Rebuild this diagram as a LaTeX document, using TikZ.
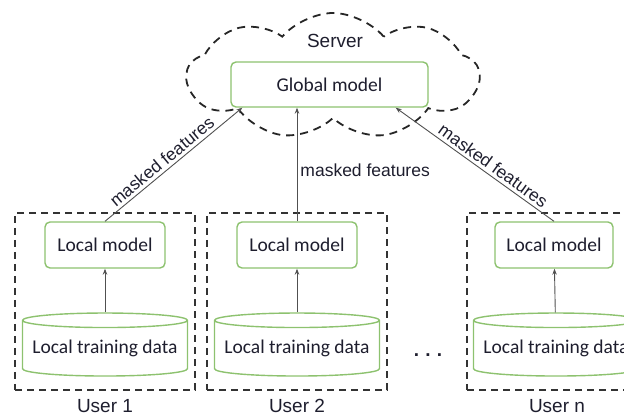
\documentclass[tikz,border=0pt]{standalone}
\usepackage{fontspec}
\setmainfont{Liberation Sans}
\newfontfamily\calibri{Carlito}
\usetikzlibrary{arrows.meta,positioning,shapes.geometric,shapes.symbols}
\definecolor{leaf}{HTML}{8DC26F}
\definecolor{ink}{HTML}{1E1E2E}
\definecolor{wire}{HTML}{505050}
\begin{document}
\begin{tikzpicture}[x=1pt,y=-1pt,>={Stealth[length=6pt,width=4.5pt]},
every node/.style={text=ink,align=center},
model/.style={draw=leaf,line width=1.4pt,rounded corners=5pt,fill=white,font=\calibri\fontsize{19.5}{22}\selectfont},
store/.style={cylinder,shape border rotate=90,draw=leaf,line width=1.4pt,aspect=0.1,minimum width=165pt,minimum height=63pt,inner sep=0pt,font=\calibri\fontsize{19.5}{22}\selectfont},
user/.style={draw=black!80,dash pattern=on 7pt off 5pt,line width=1.8pt,minimum width=180pt,minimum height=177pt},
flow/.style={->,draw=wire,line width=0.9pt},
tag/.style={font=\fontsize{17.5}{20}\selectfont,inner sep=3pt}]
\useasboundingbox (0,0) rectangle (624,419);
% server side
\node[cloud,cloud puffs=9,cloud puff arc=100,aspect=2.3,draw=black!85,dash pattern=on 8pt off 6pt,line width=1.8pt,minimum width=292pt,minimum height=126pt] (cloud) at (333,76) {};
\node[font=\fontsize{19}{22}\selectfont] (server) at (335,41) {Server};
\node[model,minimum width=197pt,minimum height=45pt] (global) at (329.5,84.5) {Global model};
% users
\node[user] (user1) at (105,301.5) {};
\node[user] (user2) at (297,301.5) {};
\node[user] (usern) at (557,301.5) {};
\node[font=\fontsize{19}{22}\selectfont,below=5pt of user1] (lab1) {User 1};
\node[font=\fontsize{19}{22}\selectfont,below=5pt of user2] (lab2) {User 2};
\node[font=\fontsize{19}{22}\selectfont,below=5pt of usern] (labn) {User n};
\node[model,minimum width=120pt,minimum height=46pt] (local1) at (105,245) {Local model};
\node[model,minimum width=120pt,minimum height=46pt] (local2) at (297,245) {Local model};
\node[model,minimum width=118pt,minimum height=46pt] (localn) at (554,245) {Local model};
\node[store] (data1) at (105,348.5) {Local training data};
\node[store] (data2) at (297,348.5) {Local training data};
\node[store] (datan) at (556,348.5) {Local training data};
\node[font=\bfseries\fontsize{19}{20}\selectfont] (dots) at (428,355) {.\,\,.\,\,.};
% arrows
\draw[flow] (data1) -- (local1);
\draw[flow] (data2) -- (local2);
\draw[flow] (datan) -- (localn);
\draw[flow] (local1.north) -- node[tag,sloped,above,pos=0.46]{masked features} ([xshift=12pt]global.south west);
\draw[flow] (local2.north) -- node[tag,right,pos=0.45]{masked features} (local2.north |- global.south);
\draw[flow] (localn.north) -- node[tag,sloped,above,pos=0.42]{masked features} ([xshift=-33pt]global.south east);
\end{tikzpicture}
\end{document}
